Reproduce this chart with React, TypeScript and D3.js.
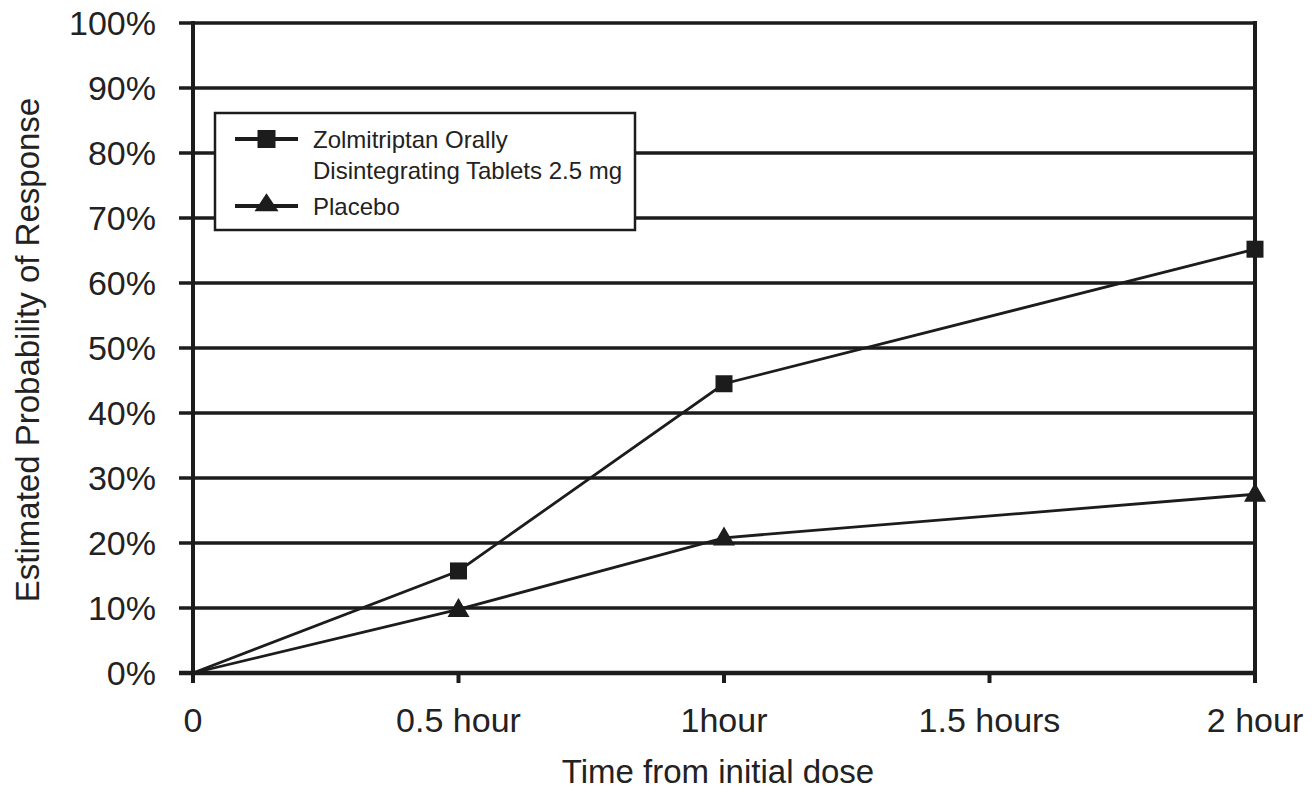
import React from "react";
import * as d3 from "d3";

const timePoints = [0, 0.5, 1, 2];
const zolmitriptan = [0, 15.7, 44.5, 65.2];
const placebo = [0, 9.8, 20.8, 27.5];
const yTicks = [0, 10, 20, 30, 40, 50, 60, 70, 80, 90, 100];
const xTicks = [0, 0.5, 1, 1.5, 2];
const xTickLabels = ["0", "0.5 hour", "1hour", "1.5 hours", "2 hour"];
const legendLabels = [["Zolmitriptan Orally", "Disintegrating Tablets 2.5 mg"], ["Placebo"]];

const W = 1316, H = 792;
const left = 193, right = 1255, top = 23, bottom = 673;
const ink = "#1c1c1c";
const font = "Liberation Sans, Arial, sans-serif";

export default function App() {
  const x = d3.scaleLinear().domain([0, 2]).range([left, right]);
  const y = d3.scaleLinear().domain([0, 100]).range([bottom, top]);
  const line = d3.line<[number, number]>().x(d => x(d[0])).y(d => y(d[1]));
  const zPts: [number, number][] = timePoints.map((t, i) => [t, zolmitriptan[i]]);
  const pPts: [number, number][] = timePoints.map((t, i) => [t, placebo[i]]);
  const tri = (cx: number, cy: number, w = 22, h = 19) =>
    `M${cx},${cy - h * 0.6}L${cx + w / 2},${cy + h * 0.4}L${cx - w / 2},${cy + h * 0.4}Z`;
  const sq = 17;

  return (
    <svg width={W} height={H} style={{ position: "absolute", left: 0, top: 0, background: "#fff" }}>
      {/* gridlines */}
      {yTicks.map(t => (
        <line key={t} x1={179} x2={right} y1={y(t)} y2={y(t)} stroke={ink} strokeWidth={t === 0 ? 4.5 : 3.6} />
      ))}
      {/* axes */}
      <line x1={left} x2={left} y1={top - 2} y2={bottom + 10} stroke={ink} strokeWidth={4} />
      <line x1={right} x2={right} y1={top - 2} y2={bottom + 10} stroke={ink} strokeWidth={4} />
      {xTicks.slice(1, -1).map(t => (
        <line key={t} x1={x(t)} x2={x(t)} y1={bottom} y2={bottom + 10} stroke={ink} strokeWidth={4} />
      ))}
      {/* y tick labels */}
      {yTicks.map(t => (
        <text key={t} x={156} y={y(t) + 12} textAnchor="end" fontFamily={font} fontSize={34} fill="#222">
          {t}%
        </text>
      ))}
      {/* x tick labels */}
      {xTicks.map((t, i) => (
        <text key={t} x={x(t)} y={732} textAnchor="middle" fontFamily={font} fontSize={34} fill="#222">
          {xTickLabels[i]}
        </text>
      ))}
      {/* axis titles */}
      <text x={718} y={783} textAnchor="middle" fontFamily={font} fontSize={33} fill="#222">
        Time from initial dose
      </text>
      <text transform="translate(39,350) rotate(-90)" textAnchor="middle" fontFamily={font} fontSize={33} fill="#222">
        Estimated Probability of Response
      </text>
      {/* series */}
      <path d={line(zPts) || ""} fill="none" stroke={ink} strokeWidth={2.8} />
      <path d={line(pPts) || ""} fill="none" stroke={ink} strokeWidth={2.8} />
      {zPts.slice(1).map(d => (
        <rect key={d[0]} x={x(d[0]) - sq / 2} y={y(d[1]) - sq / 2} width={sq} height={sq} fill={ink} />
      ))}
      {pPts.slice(1).map(d => (
        <path key={d[0]} d={tri(x(d[0]), y(d[1]))} fill={ink} />
      ))}
      {/* legend */}
      <rect x={215} y={113} width={420} height={117} fill="#fff" stroke={ink} strokeWidth={2.5} />
      <line x1={235} x2={298} y1={139} y2={139} stroke={ink} strokeWidth={4} />
      <rect x={266.5 - 9} y={139 - 9} width={18} height={18} fill={ink} />
      <line x1={235} x2={298} y1={206} y2={206} stroke={ink} strokeWidth={4} />
      <path d={tri(266.5, 204, 24, 18)} fill={ink} />
      <text fontFamily={font} fontSize={24} fill="#222">
        <tspan x={313} y={148}>{legendLabels[0][0]}</tspan>
        <tspan x={313} y={179}>{legendLabels[0][1]}</tspan>
        <tspan x={313} y={215}>{legendLabels[1][0]}</tspan>
      </text>
    </svg>
  );
}
